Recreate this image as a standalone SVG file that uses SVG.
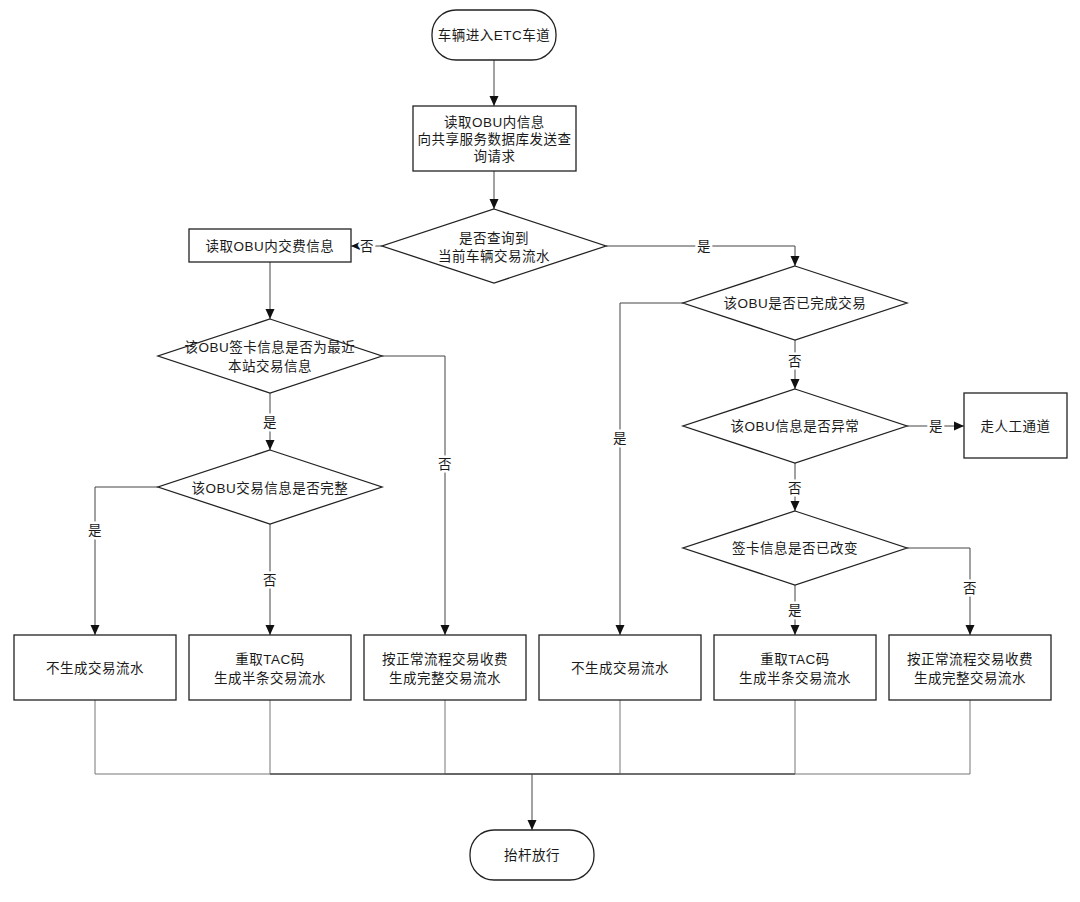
<svg xmlns="http://www.w3.org/2000/svg" width="1080" height="902" viewBox="0 0 1080 902">
<style>
text{font-family:"Liberation Sans","Noto Sans CJK SC",sans-serif;font-size:13.5px;letter-spacing:0.5px;fill:#1a1a1a;text-anchor:middle;dominant-baseline:central}
.shape{fill:#fff;stroke:#222;stroke-width:1.3}
.conn{fill:none;stroke:#444;stroke-width:1}
.ret{fill:none;stroke:#777;stroke-width:1}
.lbl{stroke:#fff;stroke-width:5;paint-order:stroke;stroke-linejoin:round}
</style>
<defs>
<marker id="arr" markerUnits="userSpaceOnUse" markerWidth="10" markerHeight="10" viewBox="0 0 10 10" refX="10" refY="5" orient="auto">
<path d="M0,0.5 L10,5 L0,9.5 Z" fill="#111"/>
</marker>
</defs>
<rect width="1080" height="902" fill="#fff"/>
<g id="connectors">
<path class="conn" d="M494,60 V106" marker-end="url(#arr)"/>
<path class="conn" d="M494,171 V209" marker-end="url(#arr)"/>
<path class="conn" d="M382,246 H351" marker-end="url(#arr)"/>
<path class="conn" d="M606,246 H795 V266" marker-end="url(#arr)"/>
<path class="conn" d="M270,262 V319" marker-end="url(#arr)"/>
<path class="conn" d="M382,356 H445 V635" marker-end="url(#arr)"/>
<path class="conn" d="M270,393 V450" marker-end="url(#arr)"/>
<path class="conn" d="M158,487 H95 V635" marker-end="url(#arr)"/>
<path class="conn" d="M270,524 V635" marker-end="url(#arr)"/>
<path class="conn" d="M683,303 H620 V635" marker-end="url(#arr)"/>
<path class="conn" d="M795,340 V389" marker-end="url(#arr)"/>
<path class="conn" d="M907,426 H964" marker-end="url(#arr)"/>
<path class="conn" d="M795,463 V511" marker-end="url(#arr)"/>
<path class="conn" d="M795,585 V635" marker-end="url(#arr)"/>
<path class="conn" d="M907,548 H970 V635" marker-end="url(#arr)"/>
<path class="ret" d="M95,700 V774 H532"/>
<path class="ret" d="M270,700 V774 H532"/>
<path class="ret" d="M445,700 V774 H532"/>
<path class="ret" d="M620,700 V774 H532"/>
<path class="ret" d="M795,700 V774 H532"/>
<path class="ret" d="M970,700 V774 H532"/>
<path class="conn" d="M270,774 H795"/>
<path class="conn" d="M532,774 V830" marker-end="url(#arr)"/>
<text class="lbl" x="367" y="246">否</text>
<text class="lbl" x="704" y="246">是</text>
<text class="lbl" x="445" y="464">否</text>
<text class="lbl" x="270" y="422">是</text>
<text class="lbl" x="95" y="530">是</text>
<text class="lbl" x="270" y="580">否</text>
<text class="lbl" x="620" y="438">是</text>
<text class="lbl" x="795" y="361">否</text>
<text class="lbl" x="936" y="426">是</text>
<text class="lbl" x="795" y="488">否</text>
<text class="lbl" x="795" y="610">是</text>
<text class="lbl" x="970" y="588">否</text>
</g>
<g id="start"><rect class="shape" x="432" y="10" width="124" height="50" rx="24"/><text x="494" y="35">车辆进入ETC车道</text></g>
<g id="readObu"><rect class="shape" x="413" y="106" width="163" height="65"/><text x="494.5" y="122">读取OBU内信息</text><text x="494.5" y="139.5">向共享服务数据库发送查</text><text x="494.5" y="156">询请求</text></g>
<g id="d1"><path class="shape" d="M494,209 L606,246 L494,283 L382,246 Z"/><text x="494" y="238">是否查询到</text><text x="494" y="256">当前车辆交易流水</text></g>
<g id="readFee"><rect class="shape" x="189" y="229" width="162" height="33"/><text x="270" y="246">读取OBU内交费信息</text></g>
<g id="dL1"><path class="shape" d="M270,319 L382,356 L270,393 L158,356 Z"/><text x="270" y="347">该OBU签卡信息是否为最近</text><text x="270" y="366">本站交易信息</text></g>
<g id="dL2"><path class="shape" d="M270,450 L382,487 L270,524 L158,487 Z"/><text x="270" y="488">该OBU交易信息是否完整</text></g>
<g id="dR1"><path class="shape" d="M795,266 L907,303 L795,340 L683,303 Z"/><text x="795" y="303">该OBU是否已完成交易</text></g>
<g id="dR2"><path class="shape" d="M795,389 L907,426 L795,463 L683,426 Z"/><text x="795" y="426">该OBU信息是否异常</text></g>
<g id="dR3"><path class="shape" d="M795,511 L907,548 L795,585 L683,548 Z"/><text x="795" y="548">签卡信息是否已改变</text></g>
<g id="manual"><rect class="shape" x="964" y="393" width="103" height="65"/><text x="1015.5" y="426">走人工通道</text></g>
<g id="b1"><rect class="shape" x="14" y="635" width="162" height="65"/><text x="95" y="668">不生成交易流水</text></g>
<g id="b2"><rect class="shape" x="189" y="635" width="162" height="65"/><text x="270" y="659">重取TAC码</text><text x="270" y="678">生成半条交易流水</text></g>
<g id="b3"><rect class="shape" x="364" y="635" width="162" height="65"/><text x="445" y="659">按正常流程交易收费</text><text x="445" y="678">生成完整交易流水</text></g>
<g id="b4"><rect class="shape" x="539" y="635" width="162" height="65"/><text x="620" y="668">不生成交易流水</text></g>
<g id="b5"><rect class="shape" x="714" y="635" width="162" height="65"/><text x="795" y="659">重取TAC码</text><text x="795" y="678">生成半条交易流水</text></g>
<g id="b6"><rect class="shape" x="889" y="635" width="162" height="65"/><text x="970" y="659">按正常流程交易收费</text><text x="970" y="678">生成完整交易流水</text></g>
<g id="end"><rect class="shape" x="470" y="830" width="124" height="50" rx="24"/><text x="532" y="855">抬杆放行</text></g>
</svg>
